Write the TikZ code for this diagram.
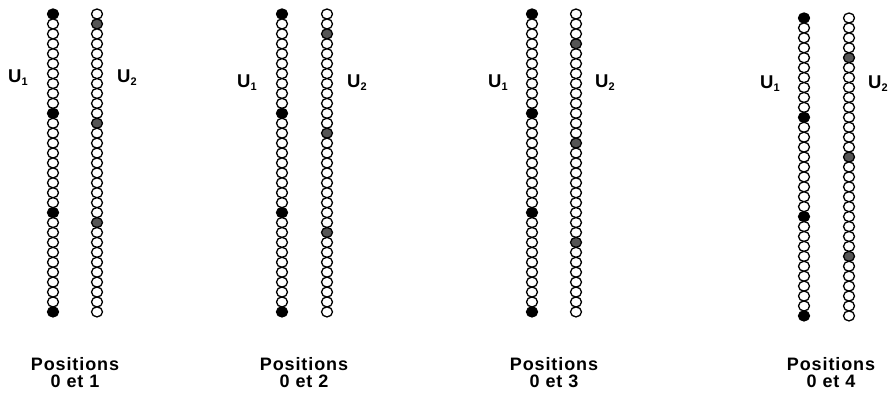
\documentclass[tikz,border=0pt]{standalone}
\usepackage{fontspec}
\setmainfont{Liberation Sans}
\definecolor{beadgray}{RGB}{85,85,85}

\begin{document}
\begin{tikzpicture}[x=1pt,y=-1pt,line cap=round,line join=round,
        bead/.style={draw=black,line width=1.3pt},
        ulabel/.style={font=\fontsize{18.5}{18}\selectfont\bfseries,inner sep=0pt,anchor=base west},
        caption/.style={font=\fontsize{18}{17}\selectfont\bfseries\addfontfeatures{LetterSpace=5},inner sep=0pt,align=center}]
        \useasboundingbox (0,0) rectangle (889,397);
        % panel: number / left x / right x / top y / shift / U1 x / U2 x / label base / caption x
        \foreach \n/\xl/\xr/\yt/\k/\ua/\ub/\uy/\cx in {
                1/53/97/14/1/8/117/82/75,
                2/282/327/14/2/237/347/87/304,
                3/532/576/14/3/488/595/87/554,
                4/804/849/18/4/760/868/88/831} {
            \foreach \i in {0,...,30} {
                \pgfmathtruncatemacro\r{mod(\i,10)}
                \ifnum\r=0 \def\fl{black}\else\def\fl{white}\fi
                \ifnum\r=\k \def\fr{beadgray}\else\def\fr{white}\fi
                \draw[bead,fill=\fl] (\xl,\yt+\i*9.93) ellipse[x radius=5.5,y radius=5];
                \draw[bead,fill=\fr] (\xr,\yt+\i*9.93) ellipse[x radius=5.5,y radius=5];
            }
            \node[ulabel] (u1-\n) at (\ua,\uy) {U\raisebox{-3pt}{\fontsize{11}{11}\selectfont 1}};
            \node[ulabel] (u2-\n) at (\ub,\uy) {U\raisebox{-3pt}{\fontsize{11}{11}\selectfont 2}};
            \node[caption] (pos-\n) at (\cx,373) {Positions\\0 et \k};
        }
\end{tikzpicture}
\end{document}
